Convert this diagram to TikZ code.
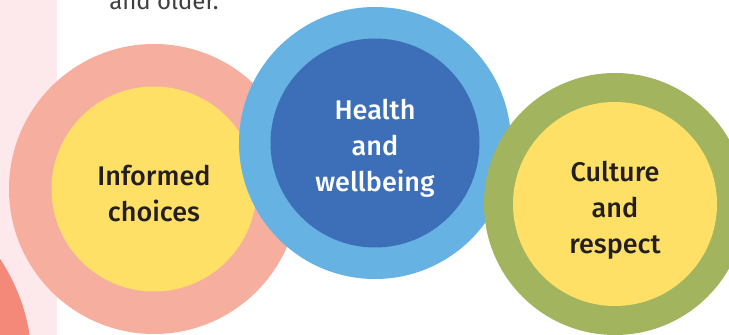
\documentclass[tikz,border=0pt]{standalone}
\usepackage{fontspec}
\setmainfont{Fira Sans}
\newfontfamily\labelfont{Fira Sans Medium}
\usepackage{tikz}
\usetikzlibrary{positioning}

\definecolor{stripPink}{HTML}{FDE8EB}
\definecolor{deepSalmon}{HTML}{F4897A}
\definecolor{salmon}{HTML}{F6AE9F}
\definecolor{sunYellow}{HTML}{FFE066}
\definecolor{skyBlue}{HTML}{66B2E2}
\definecolor{deepBlue}{HTML}{3D6FB8}
\definecolor{olive}{HTML}{A2B55E}
\definecolor{inkText}{HTML}{231F20}
\definecolor{greyText}{HTML}{3F3F3F}

\tikzset{
  ring/.style={circle, inner sep=0pt, draw=none},
  core/.style={circle, inner sep=0pt, draw=none},
  caption/.style={align=center, inner sep=0pt,
    font=\labelfont\fontsize{27}{36}\selectfont},
}

\begin{document}
\begin{tikzpicture}[x=1pt, y=1pt]
      \path[use as bounding box] (0, 0) rectangle (729, 335);
      \clip (0, 0) rectangle (729, 335);

      % side strip
      \fill[stripPink] (0, 0) rectangle (57, 335);
      \fill[deepSalmon] (-160, -30) circle (192);

      \node[greyText, font=\fontsize{24}{28}\selectfont, anchor=base, inner sep=0pt] (older) at (164, 325) {and older.};

      % informed choices
      \node[ring, fill=salmon, minimum size=290] (choicering) at (154, 146) {};
      \node[core, fill=sunYellow, minimum size=205] (choices) at (choicering) {};
      \node[caption, text=inkText] (choicestext) at ([yshift=-5]choices.center) {Informed\\choices};

      % health and wellbeing
      \node[ring, fill=skyBlue, minimum size=272] (healthring) at (375, 192) {};
      \node[core, fill=deepBlue, minimum size=209] (health) at (healthring) {};
      \node[caption, text=white] (healthtext) at ([yshift=-5]health.center) {Health\\and\\wellbeing};

      % culture and respect
      \node[ring, fill=olive, minimum size=262] (culturering) at (615, 131) {};
      \node[core, fill=sunYellow, minimum size=204] (culture) at (culturering) {};
      \node[caption, text=inkText] (culturetext) at ([yshift=-6]culture.center) {Culture\\and\\respect};
    \end{tikzpicture}
\end{document}
